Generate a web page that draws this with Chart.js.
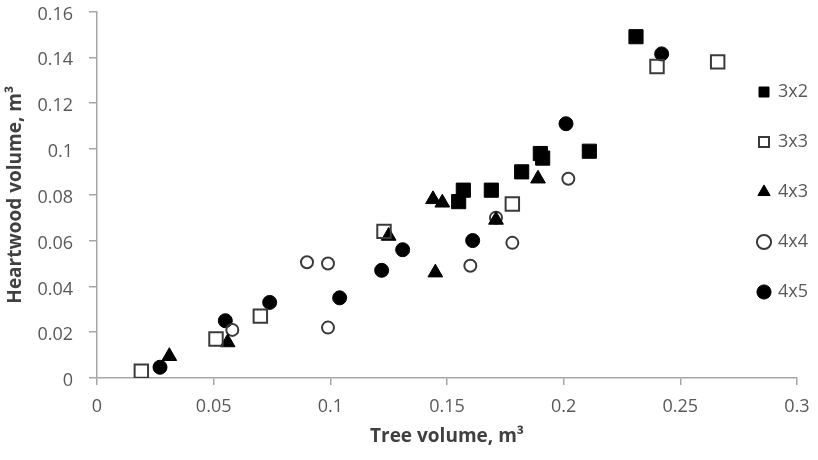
<!DOCTYPE html>
<html>
<head>
<meta charset="utf-8">
<script src="https://cdn.jsdelivr.net/npm/chart.js@4.4.1/dist/chart.umd.min.js"></script>
<style>
  html, body { margin: 0; padding: 0; background: #fff; }
  #wrap { width: 818px; height: 460px; }
</style>
</head>
<body>
<div id="wrap"><canvas id="myChart" width="818" height="460"></canvas></div>
<script>
'use strict';

// spacing groups
const groups = ['3x2', '3x3', '4x3', '4x4', '4x5'];

// tree volume (x) and heartwood volume (y), m3
const tree3x2 = [0.155, 0.157, 0.169, 0.182, 0.190, 0.191, 0.211, 0.231];
const heart3x2 = [0.077, 0.082, 0.082, 0.090, 0.098, 0.096, 0.099, 0.149];

const tree3x3 = [0.019, 0.051, 0.070, 0.123, 0.178, 0.240, 0.266];
const heart3x3 = [0.003, 0.017, 0.027, 0.064, 0.076, 0.136, 0.138];

const tree4x3 = [0.031, 0.056, 0.125, 0.144, 0.148, 0.145, 0.171, 0.189];
const heart4x3 = [0.0095, 0.0155, 0.062, 0.078, 0.0765, 0.046, 0.069, 0.087];

const tree4x4 = [0.058, 0.090, 0.099, 0.099, 0.160, 0.171, 0.178, 0.202];
const heart4x4 = [0.021, 0.0505, 0.050, 0.022, 0.049, 0.070, 0.059, 0.087];

const tree4x5 = [0.027, 0.055, 0.074, 0.104, 0.122, 0.131, 0.161, 0.201, 0.242];
const heart4x5 = [0.0047, 0.025, 0.033, 0.035, 0.047, 0.056, 0.060, 0.111, 0.1415];

const xTickLabels = ['0', '0.05', '0.1', '0.15', '0.2', '0.25', '0.3'];
const yTickLabels = ['0', '0.02', '0.04', '0.06', '0.08', '0.1', '0.12', '0.14', '0.16'];

const seriesX = [tree3x2, tree3x3, tree4x3, tree4x4, tree4x5];
const seriesY = [heart3x2, heart3x3, heart4x3, heart4x4, heart4x5];

const styles = [
  {pointStyle: 'rect', pointRadius: 10, backgroundColor: '#000', borderColor: '#000', borderWidth: 1},
  {pointStyle: 'rect', pointRadius: 9.5, backgroundColor: 'rgba(255,255,255,0)', borderColor: '#3a3a3a', borderWidth: 2},
  {pointStyle: 'triangle', pointRadius: 8.5, backgroundColor: '#000', borderColor: '#000', borderWidth: 1},
  {pointStyle: 'circle', pointRadius: 6, backgroundColor: 'rgba(255,255,255,0)', borderColor: '#3a3a3a', borderWidth: 2},
  {pointStyle: 'circle', pointRadius: 7, backgroundColor: '#000', borderColor: '#000', borderWidth: 1}
];

function buildDatasets(){
  return groups.map((name, i) => {
    const pts = seriesX[i].map((x, j) => ({x: x, y: seriesY[i][j]}));
    return Object.assign({label: name, data: pts, pointHoverRadius: styles[i].pointRadius}, styles[i]);
  });
}

// Excel puts the legend over the right end of the plot area
const legendMover = {
  id: 'legendMover',
  afterLayout(chart){
    const lg = chart.legend;
    if (!lg) return;
    lg.left = 727;
    lg.right = 818;
    lg.top = 51;
    lg.bottom = 400;
  }
};

const axisGray = '#a6a6a6';
const textGray = '#595959';

new Chart(document.getElementById('myChart'), {
  type: 'scatter',
  data: { datasets: buildDatasets() },
  plugins: [legendMover],
  options: {
    responsive: false,
    animation: false,
    events: [],
    layout: { padding: {left: 0, right: 21, top: 6, bottom: 0} },
    plugins: {
      tooltip: { enabled: false },
      legend: {
        position: 'chartArea',
        align: 'start',
        labels: {
          usePointStyle: true,
          boxWidth: 10,
          boxHeight: 10,
          padding: 32,
          color: textGray,
          font: { family: 'Open Sans', size: 18 }
        }
      }
    },
    scales: {
      x: {
        type: 'linear',
        min: 0,
        max: 0.3,
        border: { color: axisGray, width: 1.5 },
        grid: { drawOnChartArea: false, color: axisGray, tickLength: 7, lineWidth: 1.5 },
        ticks: {
          stepSize: 0.05,
          padding: 11,
          color: textGray,
          font: { family: 'Open Sans', size: 18 },
          callback: (v, i) => xTickLabels[i]
        },
        title: {
          display: true,
          text: 'Tree volume, m³',
          color: '#404040',
          padding: {top: 0, bottom: 12},
          font: { family: 'Open Sans', size: 19, weight: 'bold' }
        },
        afterFit(scale){
          scale.height = 82;
          scale.paddingLeft = 0;
          scale.paddingRight = 0;
        }
      },
      y: {
        type: 'linear',
        min: 0,
        max: 0.16,
        border: { color: axisGray, width: 1.5 },
        grid: { drawOnChartArea: false, color: axisGray, tickLength: 8, lineWidth: 1.5 },
        ticks: {
          stepSize: 0.02,
          padding: 16,
          labelOffset: 3,
          color: textGray,
          font: { family: 'Open Sans', size: 18 },
          callback: (v, i) => yTickLabels[i]
        },
        title: {
          display: true,
          text: 'Heartwood volume, m³',
          color: '#404040',
          padding: {top: 4, bottom: 0},
          font: { family: 'Open Sans', size: 19, weight: 'bold' }
        },
        afterFit(scale){
          scale.width = 97;
          scale.paddingTop = 0;
          scale.paddingBottom = 0;
        }
      }
    }
  }
});
</script>
</body>
</html>
